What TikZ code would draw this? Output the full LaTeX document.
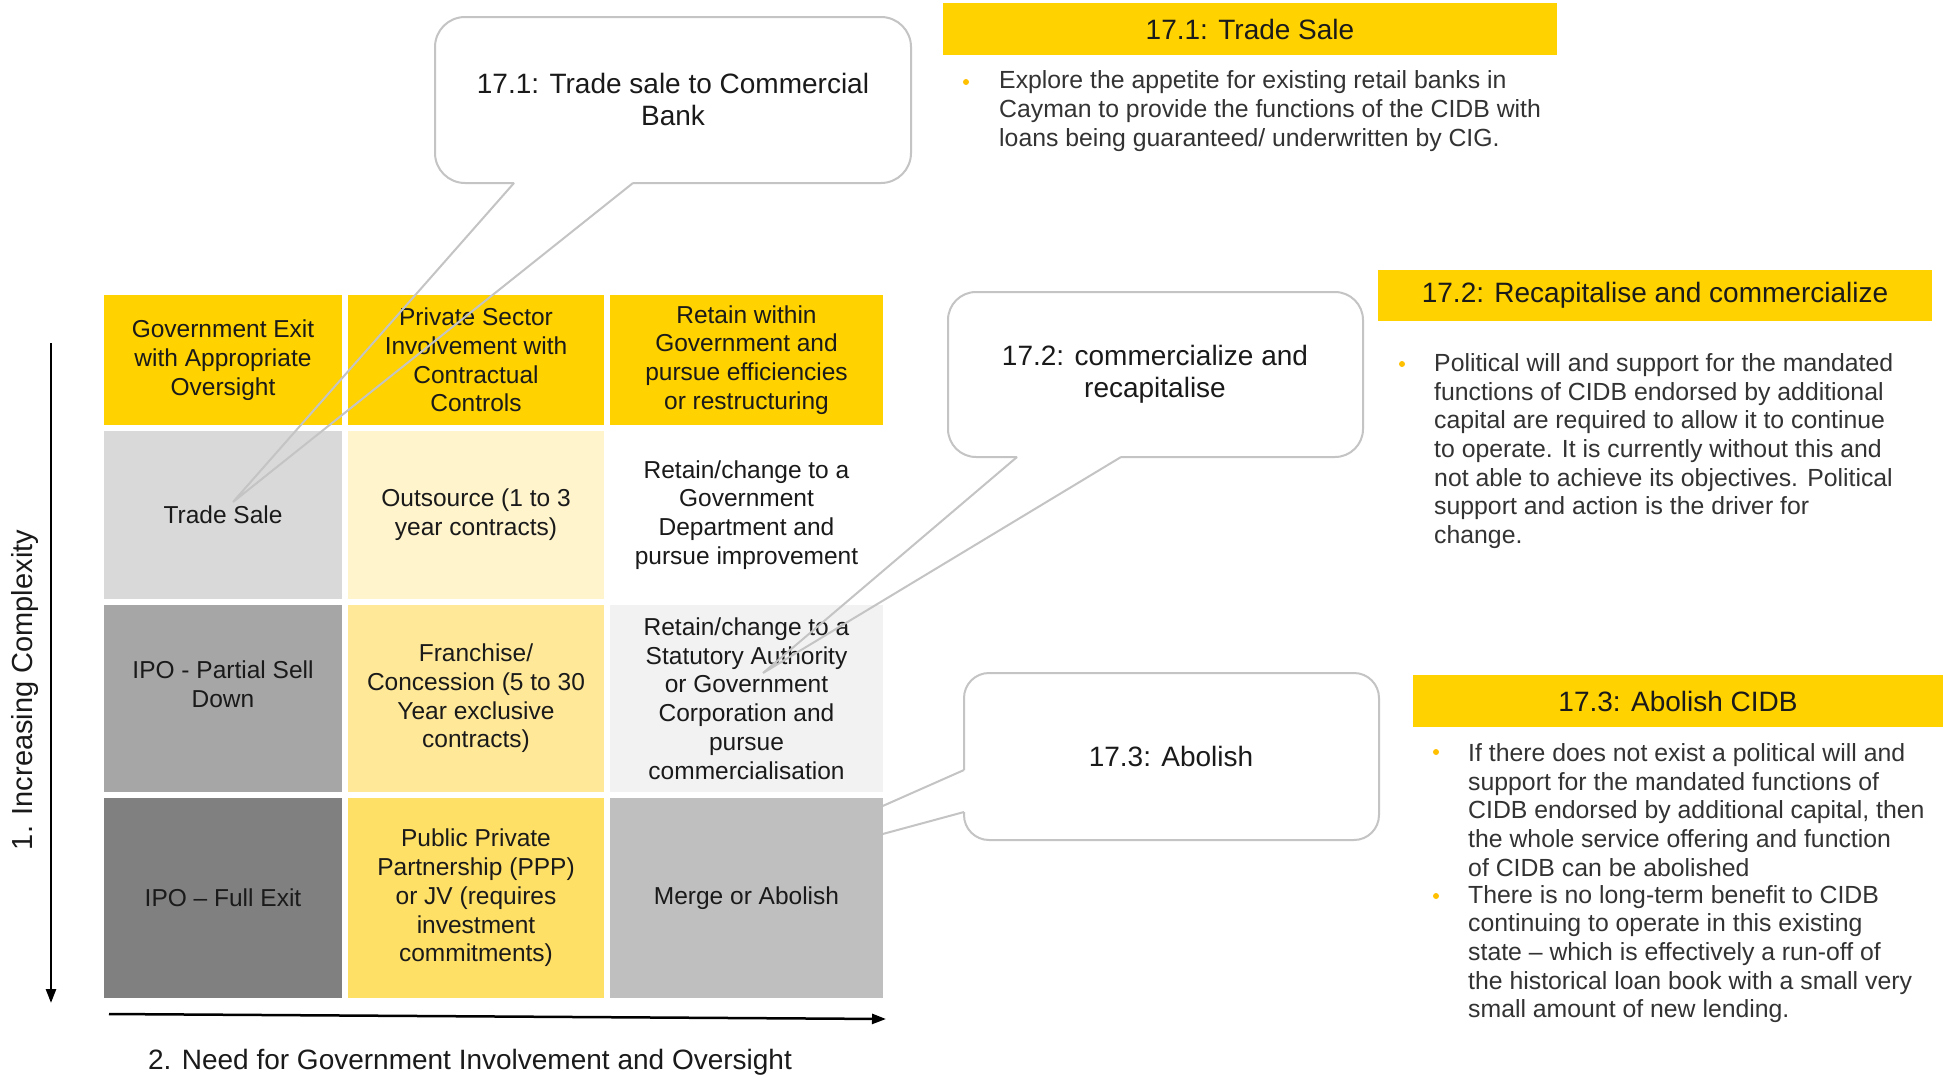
\documentclass[tikz,border=0pt]{standalone}
\usepackage{fontspec}
\setmainfont{Liberation Sans}
\usetikzlibrary{arrows.meta}

\definecolor{eyyellow}{HTML}{FFD200}
\definecolor{lightyellow}{HTML}{FFF4CC}
\definecolor{midyellow}{HTML}{FFE999}
\definecolor{deepyellow}{HTML}{FFE066}
\definecolor{greyA}{HTML}{D9D9D9}
\definecolor{greyB}{HTML}{A6A6A6}
\definecolor{greyC}{HTML}{808080}
\definecolor{greyD}{HTML}{F2F2F2}
\definecolor{greyE}{HTML}{BFBFBF}
\definecolor{calloutline}{HTML}{C4C4C4}
\definecolor{inktext}{HTML}{1A1A1A}
\definecolor{bodytext}{HTML}{333333}
\definecolor{dotcolor}{HTML}{FFC000}

\begin{document}
\begin{tikzpicture}[x=1pt,y=-1pt,
  cell/.style={inner sep=0pt, outer sep=0pt, align=center, text=inktext,
    font=\fontsize{24.5}{28.7}\selectfont},
  col1/.style={minimum width=238pt},
  col2/.style={minimum width=256pt},
  col3/.style={minimum width=273pt},
  rowh/.style={minimum height=130pt},
  rowa/.style={minimum height=168pt},
  rowb/.style={minimum height=187pt},
  rowc/.style={minimum height=200pt},
  callout/.style={draw=calloutline, line width=2pt, line join=miter},
  titletext/.style={align=center, text=inktext, font=\fontsize{28}{32}\selectfont},
  banner/.style={fill=eyyellow, inner sep=0pt, outer sep=0pt, text=inktext,
    font=\fontsize{28}{32}\selectfont},
  bodyblock/.style={anchor=west, align=left, inner sep=0pt, text=bodytext,
    font=\fontsize{24.8}{28.7}\selectfont},
  bulletdot/.style={circle, fill=dotcolor, inner sep=0pt, minimum size=6pt},
  axis/.style={line width=2.5pt, -{Triangle[length=14pt,width=10pt]}}
]
\useasboundingbox (0,0) rectangle (1943,1077);
\fill[white] (0,0) rectangle (1943,1077);

% ---- option matrix: header row
\node[cell,col1,rowh,fill=eyyellow] (h1) at (223,360) {Government Exit\\with Appropriate\\Oversight};
\node[cell,col2,rowh,fill=eyyellow] (h2) at (476,360) {Private Sector\\Involvement with\\Contractual\\Controls};
\node[cell,col3,rowh,fill=eyyellow] (h3) at (746.5,360) {Retain within\\Government and\\pursue efficiencies\\or restructuring};

% ---- row 1
\node[cell,col1,rowa,fill=greyA] (a1) at (223,515) {Trade Sale};
\node[cell,col2,rowa,fill=lightyellow] (a2) at (476,515) {Outsource (1 to 3\\year contracts)};
\node[cell,col3,rowa,fill=white] (a3) at (746.5,515) {Retain/change to a\\Government\\Department and\\pursue improvement};

% ---- row 2
\node[cell,col1,rowb,fill=greyB] (b1) at (223,698.5) {};
\node[cell] (b1t) at (223,684) {IPO - Partial Sell\\Down};
\node[cell,col2,rowb,fill=midyellow] (b2) at (476,698.5) {Franchise/\\Concession (5 to 30\\Year exclusive\\contracts)};
\node[cell,col3,rowb,fill=greyD] (b3) at (746.5,698.5) {Retain/change to a\\Statutory Authority\\or Government\\Corporation and\\pursue\\commercialisation};

% ---- row 3
\node[cell,col1,rowc,fill=greyC] (c1) at (223,898) {IPO – Full Exit};
\node[cell,col2,rowc,fill=deepyellow] (c2) at (476,898) {Public Private\\Partnership (PPP)\\or JV (requires\\investment\\commitments)};
\node[cell,col3,rowc,fill=greyE] (c3) at (746.5,898) {Merge or Abolish};

% ---- axes
\coordinate (vtop) at (51,343);
\coordinate (vbot) at (51,1003);
\coordinate (hleft) at (109,1014);
\coordinate (hright) at (886,1019);
\draw[axis] (vtop) -- (vbot);
\draw[axis] (hleft) -- (hright);
\node[rotate=90, text=inktext, font=\fontsize{29}{33}\selectfont] (yaxis) at (25,690) {1. Increasing Complexity};
\node[text=inktext, font=\fontsize{28}{32}\selectfont] (xaxis) at (470,1062) {2. Need for Government Involvement and Oversight};

% ---- callout 17.1
\coordinate (k1L) at (514,183);
\coordinate (k1R) at (633,183);
\coordinate (k1tip) at (233,502);
\draw[callout, rounded corners=30pt] (k1R) -- (911,183) -- (911,17) -- (435,17) -- (435,183) -- (k1L);
\draw[callout] (k1L) -- (k1tip) -- (k1R);
\node[titletext] (k1text) at (673,99) {17.1: Trade sale to Commercial\\Bank};

% ---- callout 17.2
\coordinate (k2L) at (1017,457);
\coordinate (k2R) at (1121,457);
\coordinate (k2tip) at (763,673);
\draw[callout, rounded corners=28pt] (k2R) -- (1363,457) -- (1363,292) -- (948,292) -- (948,457) -- (k2L);
\draw[callout] (k2L) -- (k2tip) -- (k2R);
\node[titletext] (k2text) at (1155,374) {17.2: commercialize and\\recapitalise};

% ---- callout 17.3 (its pointer runs into the grey cell, where it blends away)
\coordinate (k3U) at (964,770);
\coordinate (k3D) at (964,812);
\coordinate (k3tip) at (720,878);
\draw[callout, rounded corners=25pt] (k3U) -- (964,673) -- (1379,673) -- (1379,840) -- (964,840) -- (k3D);
\begin{scope}
  \clip (c3.east |- 0,0) rectangle (1943,1077);
  \draw[callout] (k3U) -- (k3tip) -- (k3D);
\end{scope}
\node[titletext] (k3text) at (1171,756) {17.3: Abolish};

% ---- option 17.1 notes
\node[banner, minimum width=614pt, minimum height=52pt] (n1) at (1250,29) {17.1: Trade Sale};
\node[bulletdot] (d1) at (966,82) {};
\node[bodyblock] (t1) at (999,111) {Explore the appetite for existing retail banks in\\Cayman to provide the functions of the CIDB with\\loans being guaranteed/ underwritten by CIG.};

% ---- option 17.2 notes
\node[banner, minimum width=554pt, minimum height=51pt] (n2) at (1655,295) {17.2: Recapitalise and commercialize};
\node[bulletdot] (d2) at (1402,364) {};
\node[bodyblock] (t2) at (1434,451) {Political will and support for the mandated\\functions of CIDB endorsed by additional\\capital are required to allow it to continue\\to operate. It is currently without this and\\not able to achieve its objectives. Political\\support and action is the driver for\\change.};

% ---- option 17.3 notes
\node[banner, minimum width=530pt, minimum height=52pt] (n3) at (1678,701) {17.3: Abolish CIDB};
\node[bulletdot] (d3) at (1436,752) {};
\node[bodyblock] (t3) at (1468,810) {If there does not exist a political will and\\support for the mandated functions of\\CIDB endorsed by additional capital, then\\the whole service offering and function\\of CIDB can be abolished};
\node[bulletdot] (d4) at (1436,896) {};
\node[bodyblock] (t4) at (1468,954) {There is no long-term benefit to CIDB\\continuing to operate in this existing\\state – which is effectively a run-off of\\the historical loan book with a small very\\small amount of new lending.};
\end{tikzpicture}
\end{document}
